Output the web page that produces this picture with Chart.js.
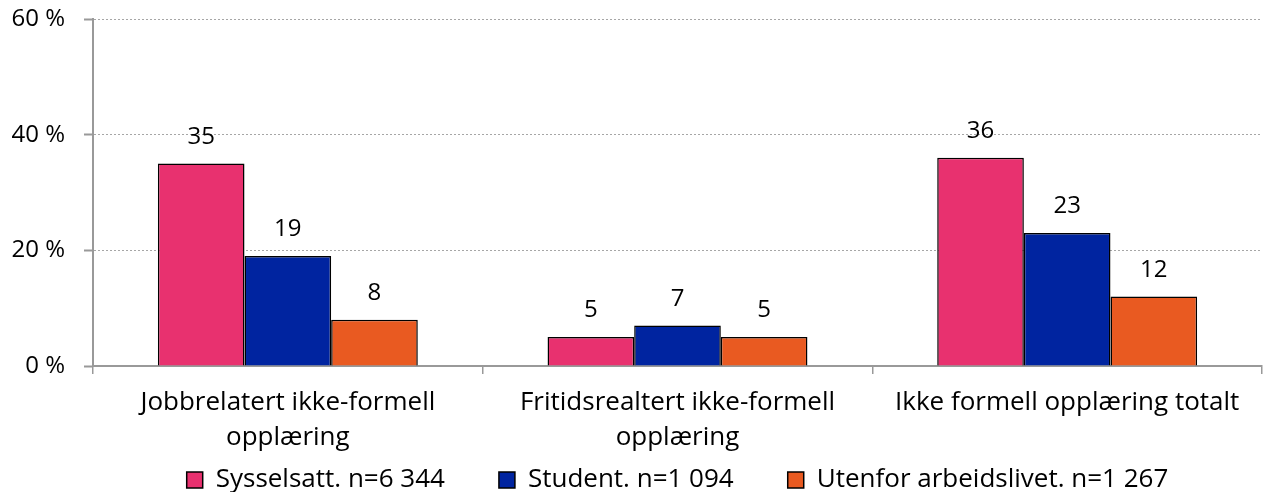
<!DOCTYPE html>
<html>
<head>
<meta charset="utf-8">
<script src="https://cdn.jsdelivr.net/npm/chart.js@4/dist/chart.umd.min.js"></script>
<style>
  html, body { margin: 0; padding: 0; background: #fff; }
  #wrap { width: 1266px; height: 492px; position: relative; }
</style>
</head>
<body>
<div id="wrap"><canvas id="c" width="1266" height="492"></canvas></div>
<script>
const categories = [
  ["Jobbrelatert ikke-formell", "opplæring"],
  ["Fritidsrealtert ikke-formell", "opplæring"],
  "Ikke formell opplæring totalt"
];
const seriesNames = ["Sysselsatt. n=6 344", "Student. n=1 094", "Utenfor arbeidslivet. n=1 267"];
const sysselsatt = [35, 5, 36];
const student = [19, 7, 23];
const utenfor = [8, 5, 12];
const yTicks = [0, 20, 40, 60];
const colors = ["#E8316F", "#0024A0", "#E95A21"];

const FONT = "'Open Sans', sans-serif";

const dataLabels = {
  id: 'dataLabels',
  afterDatasetsDraw(chart) {
    const ctx = chart.ctx;
    ctx.save();
    ctx.font = "24px " + FONT;
    ctx.fillStyle = "#000";
    ctx.textAlign = "center";
    ctx.textBaseline = "alphabetic";
    chart.data.datasets.forEach((ds, i) => {
      const meta = chart.getDatasetMeta(i);
      meta.data.forEach((bar, j) => {
        ctx.fillText(String(ds.data[j]), bar.x, bar.y - 20);
      });
    });
    ctx.restore();
  }
};

// let the multi-line category labels extend below the (short) x-axis box
const noLabelClip = {
  id: 'noLabelClip',
  beforeDraw(chart) {
    const xs = chart.scales.x;
    if (xs) xs._computeLabelArea = () => undefined;
  }
};

new Chart(document.getElementById('c'), {
  type: 'bar',
  data: {
    labels: categories,
    datasets: [
      { label: seriesNames[0], data: sysselsatt, backgroundColor: colors[0] },
      { label: seriesNames[1], data: student, backgroundColor: colors[1] },
      { label: seriesNames[2], data: utenfor, backgroundColor: colors[2] }
    ].map(d => Object.assign(d, { borderColor: '#000', borderWidth: 1.5, borderSkipped: 'bottom', categoryPercentage: 0.667, barPercentage: 1.0 }))
  },
  options: {
    responsive: false,
    animation: false,
    devicePixelRatio: 1,
    layout: { padding: { top: 0, right: 4, left: 0, bottom: 0 } },
    plugins: {
      legend: {
        position: 'bottom',
        fullSize: false,
        maxHeight: 79,
        labels: {
          font: { family: FONT, size: 26 },
          color: '#000',
          boxWidth: 16,
          boxHeight: 16,
          padding: 54,
          useBorderRadius: false,
          generateLabels(chart) {
            return chart.data.datasets.map((d, i) => ({
              text: d.label,
              fillStyle: d.backgroundColor,
              strokeStyle: '#000',
              lineWidth: 1.5,
              datasetIndex: i,
              hidden: false
            }));
          }
        }
      },
      tooltip: { enabled: false }
    },
    scales: {
      x: {
        grid: { offset: true, drawOnChartArea: false, drawTicks: true, tickLength: 8, color: '#999', lineWidth: 1.5 },
        border: { display: true, color: '#999', width: 2 },
        ticks: { font: { family: FONT, size: 26, lineHeight: 1.35 }, color: '#000', padding: 11, maxRotation: 0, autoSkip: false },
        afterFit(s) { s.height = 47; }
      },
      y: {
        min: 0, max: 60,
        afterBuildTicks(s) { s.ticks = yTicks.map(v => ({ value: v })); },
        grid: {
          drawTicks: true, tickLength: 9, color: '#A6A6A6', lineWidth: 1,
          tickColor: '#999', tickWidth: 2, tickBorderDash: [], tickBorderDashOffset: 0
        },
        border: { display: true, color: '#999', width: 2, dash: [2, 2] },
        ticks: {
          font: { family: FONT, size: 24 },
          color: '#000',
          padding: 19,
          callback: v => v + ' %'
        },
        afterFit(s) { s.width = 93; s.paddingTop = 19; s.paddingBottom = 0; }
      }
    }
  },
  plugins: [dataLabels, noLabelClip]
});
</script>
</body>
</html>
